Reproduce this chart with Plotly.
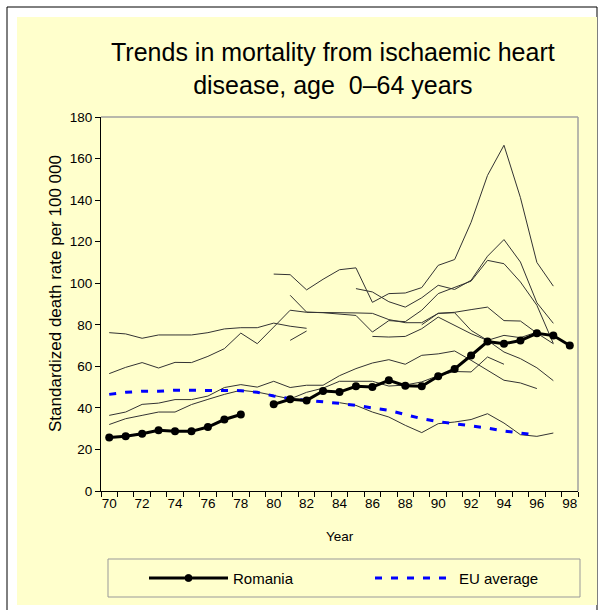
import plotly.graph_objects as go

# -----------------------------
# DATA (years 1970-1998)
# -----------------------------
N = None
years = list(range(70, 99))
year_labels = [str(y) for y in range(70, 99, 2)]
y_ticks = list(range(0, 181, 20))

romania = [25.7, 26.3, 27.6, 29.2, 28.7, 28.7, 30.8, 34.4, 36.8, N,
           41.7, 44.1, 43.6, 48.1, 47.6, 50.4, 50.1, 53.3, 50.7, 50.4,
           55.2, 58.7, 65.2, 71.9, 70.9, 72.4, 75.9, 74.8, 70.0]

eu_average = [46.5, 47.5, 48.0, 48.0, 48.5, 48.5, 48.5, 48.2, 48.3, 47.5,
              45.7, 44.4, 43.7, 43.2, 42.2, 41.2, 39.9, 38.8, 36.8, 34.8,
              33.4, 32.4, 31.5, 30.3, 28.9, 27.9, 26.9, N, N]

# other countries (thin grey lines)
other_a = [76.2, 75.6, 73.5, 75.1, 75.1, 75.1, 76.2, 78.0, 78.6, 78.6,
           80.8, 79.3, 78.3] + [N] * 16
other_b = [56.5, 59.5, 61.8, 59.2, 61.9, 61.8, 64.8, 68.5, 76.0, 70.9,
           78.9, 87.0, 86.0, 86.0, 85.7, 85.7, 85.5, 82.5, 81.0, 81.0,
           85.5, 86.0, 87.3, 88.5, 82.0, 81.8, 76.0, 70.9, N]
other_c = [36.4, 38.0, 41.7, 42.3, 44.0, 44.0, 45.7, 49.8, 51.2, 50.0,
           52.8, 49.8, 50.9, 50.9, 55.5, 58.9, 61.6, 63.2, 61.0, 65.3,
           66.0, 67.4, 62.9, 58.1, 53.3, 52.0, 49.3, N, N]
other_d = [32.0, 34.8, 36.4, 38.0, 38.0, 41.6, 44.1, 46.5, 48.5, 47.6,
           46.0, 44.3, 47.5, 49.5, 52.8, 52.8, 52.8, 50.5, 51.0, 52.5,
           55.5, 57.5, 57.3, 64.5, 61.0, N, N, N, N]
other_e = [N] * 14 + [42.5, 41.2, 38.0, 35.6, 31.6, 28.1, 32.4, 33.2, 34.4,
                      37.2, 32.7, 27.1, 26.3, 27.9, N]
other_f = [N] * 11 + [72.5, 77.0] + [N] * 16
other_p = [N] * 10 + [104.4, 104.1, 96.8, 101.9, 106.5, 107.4, 90.8, 95.0,
                      95.3, 97.9, 108.6, 111.4, 129.3, 151.9, 166.4, 141.2,
                      110.0, 98.6, N]
other_q = [N] * 15 + [97.4, 95.8, 91.1, 88.5, 93.0, 99.0, 97.0, 101.4,
                      113.0, 121.0, 110.2, 90.6, 80.7, N]
other_t = [N] * 11 + [94.2, 86.1, 85.8, 85.2, 84.5, 76.5, 82.0, 81.5, 87.0,
                      95.0, 97.9, 101.0, 111.0, 109.4, 100.6, 89.4, 71.0, N]
other_v = [N] * 16 + [74.4, 74.1, 74.4, 78.1, 83.7, 79.7, 75.7, 72.5,
                      74.9, 73.8, 76.5, N, N]
other_w = [N] * 19 + [80.0, 85.5, 85.8, 77.3, 72.5, 66.9, 63.7, 59.3,
                      53.1, N]

others = [other_a, other_b, other_c, other_d, other_e, other_f,
          other_p, other_q, other_t, other_v, other_w]

# -----------------------------
# LAYOUT HELPERS (pixel -> paper)
# -----------------------------
W, H = 604, 610
L, R, T, B = 101, 26, 117, 119
PW, PH = W - L - R, H - T - B


def px(x):
    return (x - L) / PW


def py(y):
    return (H - B - y) / PH


FONT = "Liberation Sans, Arial, sans-serif"
YELLOW = "#FFFFCC"

fig = go.Figure()

for s in others:
    fig.add_trace(go.Scatter(
        x=years, y=s, mode="lines",
        line=dict(color="#333333", width=1),
        showlegend=False, hoverinfo="skip"
    ))

fig.add_trace(go.Scatter(
    x=years, y=eu_average, mode="lines", name="EU average",
    line=dict(color="#0000FF", width=3, dash="7px,9px"),
    showlegend=False
))

fig.add_trace(go.Scatter(
    x=years, y=romania, mode="lines+markers", name="Romania",
    line=dict(color="black", width=3),
    marker=dict(color="black", size=8),
    showlegend=False
))

shapes = [
    # page frame + yellow chart area
    dict(type="rect", xref="paper", yref="paper", layer="below",
         x0=px(7), x1=px(597), y0=py(614), y1=py(7),
         line=dict(color="black", width=1), fillcolor="white"),
    dict(type="rect", xref="paper", yref="paper", layer="below",
         x0=px(17), x1=px(597), y0=py(605), y1=py(17),
         line=dict(width=0), fillcolor=YELLOW),
    # grey plot border top / right
    dict(type="line", xref="paper", yref="paper", x0=0, x1=1, y0=1, y1=1,
         line=dict(color="#a0a0a0", width=1.5)),
    dict(type="line", xref="paper", yref="paper", x0=1, x1=1, y0=0, y1=1,
         line=dict(color="#a0a0a0", width=1.5)),
    # legend box
    dict(type="rect", xref="paper", yref="paper",
         x0=px(108), x1=px(580), y0=py(597), y1=py(559),
         line=dict(color="#999999", width=1), fillcolor=YELLOW),
    dict(type="line", xref="paper", yref="paper",
         x0=px(149), x1=px(228), y0=py(578), y1=py(578),
         line=dict(color="black", width=3)),
    dict(type="circle", xref="paper", yref="paper",
         x0=px(185), x1=px(192), y0=py(581.5), y1=py(574.5),
         line=dict(color="black", width=1), fillcolor="black"),
    dict(type="line", xref="paper", yref="paper",
         x0=px(375), x1=px(454), y0=py(578), y1=py(578),
         line=dict(color="#0000FF", width=3, dash="7px,9px")),
]

annotations = [
    dict(text="Trends in mortality from ischaemic heart<br>disease, age&nbsp; 0–64 years",
         xref="paper", yref="paper", x=px(333), y=py(68.5),
         xanchor="center", yanchor="middle", showarrow=False,
         font=dict(size=25, color="black", family=FONT)),
    dict(text="Standardized death rate per 100 000",
         xref="paper", yref="paper", x=px(55), y=py(294),
         textangle=-90, xanchor="center", yanchor="middle", showarrow=False,
         font=dict(size=17, color="black", family=FONT)),
    dict(text="Year", xref="paper", yref="paper", x=px(340), y=py(536),
         xanchor="center", yanchor="middle", showarrow=False,
         font=dict(size=13.5, color="black", family=FONT)),
    dict(text="Romania", xref="paper", yref="paper", x=px(231), y=py(578),
         xanchor="left", yanchor="middle", showarrow=False,
         font=dict(size=15, color="black", family=FONT)),
    dict(text="EU average", xref="paper", yref="paper", x=px(457), y=py(578),
         xanchor="left", yanchor="middle", showarrow=False,
         font=dict(size=15, color="black", family=FONT)),
]

fig.update_layout(
    width=W, height=H,
    margin=dict(l=L, r=R, t=T, b=B, pad=0),
    paper_bgcolor="white",
    plot_bgcolor=YELLOW,
    font=dict(family=FONT, size=13.5, color="black"),
    showlegend=False,
    shapes=shapes,
    annotations=annotations,
    xaxis=dict(
        range=[69.5, 98.5], tickmode="array",
        tickvals=list(range(70, 99, 2)), ticktext=year_labels,
        ticks="", showgrid=False, zeroline=False,
        showline=True, linecolor="black", linewidth=1,
        minor=dict(ticks="outside", ticklen=5, tickcolor="black",
                   tickvals=[y - 0.5 for y in years] + [98.5],
                   showgrid=False),
        tickfont=dict(size=13.5), fixedrange=True
    ),
    yaxis=dict(
        range=[0, 180], tickmode="array", tickvals=y_ticks,
        ticks="outside", ticklen=5, tickcolor="black",
        showgrid=False, zeroline=False,
        showline=True, linecolor="black", linewidth=1,
        tickfont=dict(size=13.5), fixedrange=True
    ),
)

# the page body has a default 8px margin; drop it so pixels line up
fig.write_html("out.html", config={"displayModeBar": False},
               post_script="document.body.style.margin='0px';")
